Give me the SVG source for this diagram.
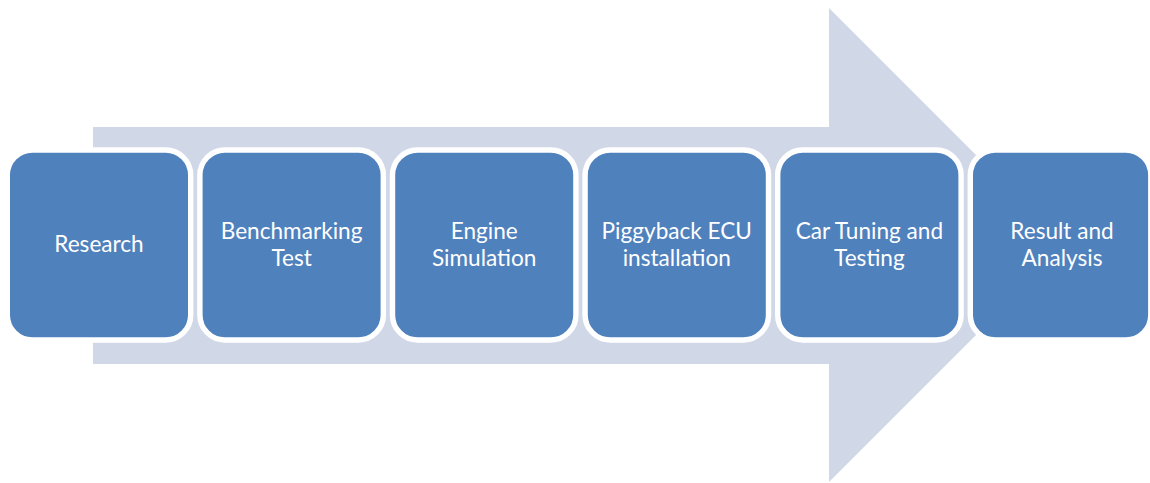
<svg xmlns="http://www.w3.org/2000/svg" width="1150" height="483" viewBox="0 0 1150 483">
  <style>
    .box { fill: #4F81BD; stroke: #FFFFFF; stroke-width: 5.4; }
    .lbl { fill: #FFFFFF; font-family: Lato, "Open Sans", "Liberation Sans", sans-serif; font-size: 22.6px; text-anchor: middle; }
  </style>
  <!-- background process arrow -->
  <g id="connectors">
    <polygon points="93,127 829,127 829,8 1066,245 829,482 829,364 93,364" fill="#D0D8E8"/>
  </g>
  <g id="n1">
    <rect class="box" x="7.3" y="150" width="183.4" height="190" rx="25"/>
    <text class="lbl" x="99" y="252">Research</text>
  </g>
  <g id="n2">
    <rect class="box" x="199.9" y="150" width="183.4" height="190" rx="25"/>
    <text class="lbl" x="291.6" y="239">Benchmarking</text>
    <text class="lbl" x="291.6" y="266">Test</text>
  </g>
  <g id="n3">
    <rect class="box" x="392.5" y="150" width="183.4" height="190" rx="25"/>
    <text class="lbl" x="484.2" y="239">Engine</text>
    <text class="lbl" x="484.2" y="266">Simulation</text>
  </g>
  <g id="n4">
    <rect class="box" x="585.1" y="150" width="183.4" height="190" rx="25"/>
    <text class="lbl" x="676.8" y="239">Piggyback ECU</text>
    <text class="lbl" x="676.8" y="266">installation</text>
  </g>
  <g id="n5">
    <rect class="box" x="777.7" y="150" width="183.4" height="190" rx="25"/>
    <text class="lbl" x="869.4" y="239">Car Tuning and</text>
    <text class="lbl" x="869.4" y="266">Testing</text>
  </g>
  <g id="n6">
    <rect class="box" x="970.3" y="150" width="180.5" height="190" rx="25"/>
    <text class="lbl" x="1062" y="239">Result and</text>
    <text class="lbl" x="1062" y="266">Analysis</text>
  </g>
</svg>
